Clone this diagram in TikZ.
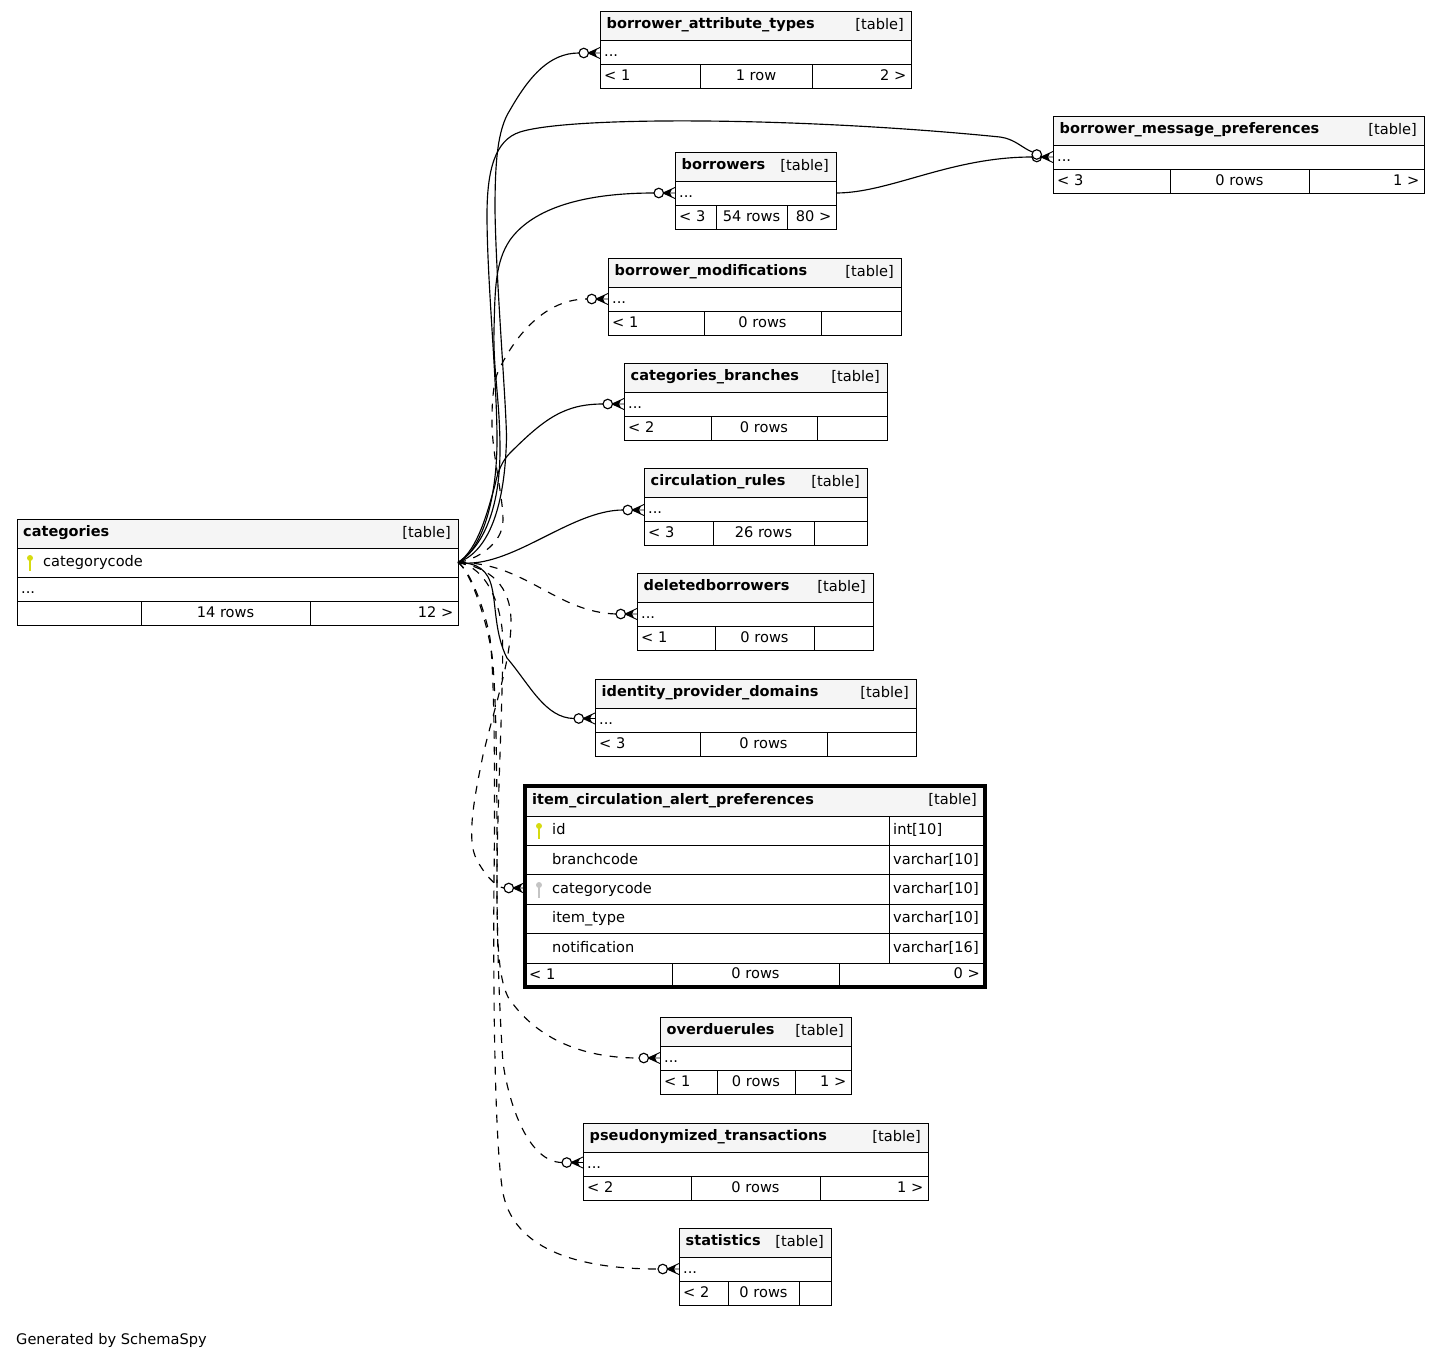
\documentclass[tikz,border=0pt]{standalone}
\usepackage{fontspec}
\setmainfont{DejaVu Sans}
\usetikzlibrary{positioning}
\definecolor{headbg}{HTML}{F5F5F5}
\definecolor{keyyellow}{HTML}{D6DB10}
\definecolor{keygray}{HTML}{C4C4C4}
\tikzset{
  cell/.style={draw,line width=1pt,inner sep=0pt,outer sep=0pt,anchor=north west},
  txt/.style={inner sep=0pt,font=\fontsize{14.6pt}{17pt}\selectfont,text height=11pt,text depth=3pt},
  ttltxt/.style={txt,font=\fontsize{14.5pt}{17pt}\selectfont\bfseries},
  dotend/.style={circle,draw,fill=white,line width=1.15pt,minimum size=9.5pt,inner sep=0pt,outer sep=0pt},
  fk/.style={line width=1.15pt},
  fkd/.style={line width=1.15pt,dash pattern=on 8pt off 8pt},
  pics/crowfoot/.style={code={
    \draw[line width=.9pt] (-12,0) -- (0,-5.5) (-12,0) -- (0,5.5) (-12,0) -- (0,0);
    \fill (-12,0) -- (-3,-4) -- (-5,0) -- (-3,4) -- cycle;
  }},
  pics/keyicon/.style={code={
    \fill[#1] (-1.2,-3) rectangle (1.2,9);
    \fill[#1] (0,-4) circle (3);
  }}
}
\begin{document}
\begin{tikzpicture}
[x=1pt,y=-1pt]
  \useasboundingbox (0,0) rectangle (1440,1360);

  % the small tables: name/left/right/top/title/first and second divider/footer texts/port shift
  \foreach \tbl/\xa/\xb/\ya/\ttl/\da/\db/\fa/\fb/\fc/\dy in {
    attrtypes/600/911/11/borrower\_attribute\_types/700/812/{< 1}/{1 row}/{2 >}/-1,
    msgprefs/1053/1424/116/borrower\_message\_preferences/1170/1309/{< 3}/{0 rows}/{1 >}/0,
    borrowers/675/836/152/borrowers/716/787/{< 3}/{54 rows}/{80 >}/0,
    modifications/608/901/258/borrower\_modifications/704/821/{< 1}/{0 rows}/{}/0,
    branches/624/887/363/categories\_branches/711/817/{< 2}/{0 rows}/{}/0,
    circrules/644/867/468/circulation\_rules/713/814/{< 3}/{26 rows}/{}/-1,
    deleted/637/873/573.5/deletedborrowers/715/814/{< 1}/{0 rows}/{}/.5,
    idpdomains/595/916/679/identity\_provider\_domains/700/827/{< 3}/{0 rows}/{}/1.5,
    overdue/660/851/1017/overduerules/717/795/{< 1}/{0 rows}/{1 >}/0,
    pseudo/583/928/1123/pseudonymized\_transactions/691/820/{< 2}/{0 rows}/{1 >}/1.5,
    statistics/679/831/1228/statistics/728/799/{< 2}/{0 rows}/{}/0%
  }{
    \node[cell,fill=headbg,minimum width=(\xb-\xa)*1pt,minimum height=29pt] (\tbl-head) at (\xa,\ya) {};
    \node[cell,minimum width=(\xb-\xa)*1pt,minimum height=24pt] (\tbl-row) at (\tbl-head.south west) {};
    \node[cell,minimum width=(\da-\xa)*1pt,minimum height=24pt] (\tbl-fa) at (\tbl-row.south west) {};
    \node[cell,minimum width=(\db-\da)*1pt,minimum height=24pt] (\tbl-fb) at (\tbl-fa.north east) {};
    \node[cell,minimum width=(\xb-\db)*1pt,minimum height=24pt] (\tbl-fc) at (\tbl-fb.north east) {};
    \node[ttltxt,anchor=west,xshift=6.5pt,yshift=1.5pt] (\tbl-title) at (\tbl-head.west) {\ttl};
    \node[txt,anchor=east,xshift=-7pt,yshift=.5pt] (\tbl-kind) at (\tbl-head.east) {[table]};
    \node[txt,anchor=west,xshift=4pt] (\tbl-more) at (\tbl-row.west) {...};
    \node[txt,anchor=west,xshift=4pt] (\tbl-ta) at (\tbl-fa.west) {\fa};
    \node[txt] (\tbl-tb) at (\tbl-fb.center) {\fb};
    \node[txt,anchor=east,xshift=-4.5pt] (\tbl-tc) at (\tbl-fc.east) {\fc};
    \coordinate (\tbl-port) at ([yshift=\dy pt]\tbl-row.west);
    \pic at (\tbl-port) {crowfoot};
    \node[dotend,left=11.5pt of \tbl-port] (\tbl-dot) {};
  }

  % categories
  \node[cell,fill=headbg,minimum width=441pt,minimum height=29pt] (cat-head) at (17,519) {};
  \node[cell,minimum width=441pt,minimum height=29pt] (cat-key) at (cat-head.south west) {};
  \node[cell,minimum width=441pt,minimum height=24pt] (cat-row) at (cat-key.south west) {};
  \node[cell,minimum width=124pt,minimum height=24pt] (cat-fa) at (cat-row.south west) {};
  \node[cell,minimum width=169pt,minimum height=24pt] (cat-fb) at (cat-fa.north east) {};
  \node[cell,minimum width=148pt,minimum height=24pt] (cat-fc) at (cat-fb.north east) {};
  \node[ttltxt,anchor=west,xshift=6pt,yshift=1.5pt] (cat-title) at (cat-head.west) {categories};
  \node[txt,anchor=east,xshift=-7pt,yshift=.5pt] (cat-kind) at (cat-head.east) {[table]};
  \pic at (30,562) {keyicon=keyyellow};
  \node[txt,anchor=west,xshift=26pt] (cat-code) at (cat-key.west) {categorycode};
  \node[txt,anchor=west,xshift=4pt] (cat-more) at (cat-row.west) {...};
  \node[txt] (cat-tb) at (cat-fb.center) {14 rows};
  \node[txt,anchor=east,xshift=-4.5pt] (cat-tc) at (cat-fc.east) {12 >};

  % item_circulation_alert_preferences, the one with all its columns
  \node[cell,fill=headbg,minimum width=460pt,minimum height=30pt] (item-head) at (525,786) {};
  \node[ttltxt,anchor=west,xshift=7pt,yshift=.5pt] (item-title) at (item-head.west) {item\_circulation\_alert\_preferences};
  \node[txt,anchor=east,xshift=-8pt,yshift=.5pt] (item-kind) at (item-head.east) {[table]};
  \node[cell,minimum width=364pt,minimum height=29.4pt] (item-id) at (item-head.south west) {};
  \node[cell,minimum width=364pt,minimum height=29.4pt] (item-branch) at (item-id.south west) {};
  \node[cell,minimum width=364pt,minimum height=29.4pt] (item-cat) at (item-branch.south west) {};
  \node[cell,minimum width=364pt,minimum height=29.4pt] (item-type) at (item-cat.south west) {};
  \node[cell,minimum width=364pt,minimum height=29.4pt] (item-note) at (item-type.south west) {};
  \foreach \rw/\cname/\ctype in {id/id/int[10],branch/branchcode/varchar[10],cat/categorycode/varchar[10],type/item\_type/varchar[10],note/notification/varchar[16]}{
    \node[cell,minimum width=96pt,minimum height=29.4pt] (item-\rw-t) at (item-\rw.north east) {};
    \node[txt,anchor=west,xshift=27pt] (item-\rw-name) at (item-\rw.west) {\cname};
    \node[txt,anchor=west,xshift=4pt] (item-\rw-type) at (item-\rw-t.west) {\ctype};
  }
  \pic at (539,830) {keyicon=keyyellow};
  \pic at (539,889) {keyicon=keygray};
  \node[cell,minimum width=147pt,minimum height=24pt] (item-fa) at (item-note.south west) {};
  \node[cell,minimum width=167pt,minimum height=24pt] (item-fb) at (item-fa.north east) {};
  \node[cell,minimum width=146pt,minimum height=24pt] (item-fc) at (item-fb.north east) {};
  \node[txt,anchor=west,xshift=4pt] (item-ta) at (item-fa.west) {< 1};
  \node[txt,yshift=.5pt] (item-tb) at (item-fb.center) {0 rows};
  \node[txt,anchor=east,xshift=-5pt,yshift=.5pt] (item-tc) at (item-fc.east) {0 >};
  \node[draw,line width=3.4pt,inner sep=0pt,outer sep=0pt,anchor=north west,minimum width=460pt,minimum height=201pt] (item-frame) at (525,786) {};
  \coordinate (item-port) at ([yshift=1.5pt]item-cat.west);
  \pic at (item-port) {crowfoot};
  \node[dotend,left=11.5pt of item-port] (item-dot) {};

  % second end on the message preferences table
  \node[dotend,above=-7pt of msgprefs-dot] (msgprefs-dotb) {};

  % relations, solid first
  \draw[fk] (cat-key.east) .. controls (485,553) and (505,515) .. (506.5,437) .. controls (506,400) and (496,280) .. (495,210) .. controls (495,165) and (497,130) .. (510,110) .. controls (530,75) and (550,53) .. (attrtypes-dot.west);
  \draw[fk] (cat-key.east) .. controls (482,550) and (497,500) .. (497,440) .. controls (497,380) and (487,280) .. (487,215) .. controls (487,170) and (495,140) .. (520,132) .. controls (570,116) and (800,117) .. (1000,137) .. controls (1015,139) and (1022,148) .. (msgprefs-dotb.150);
  \draw[fk] (cat-key.east) .. controls (482,548) and (500,510) .. (500,450) .. controls (500,400) and (493,370) .. (494,330) .. controls (495,290) and (495,262) .. (510,240) .. controls (530,212) and (575,193) .. (borrowers-dot.west);
  \draw[fk] (borrowers-row.east) .. controls (890,193) and (950,157) .. (msgprefs-dot.west);
  \draw[fk] (cat-key.east) .. controls (478,550) and (488,510) .. (495,485) .. controls (498,470) and (503,460) .. (510,453) .. controls (545,418) and (565,404) .. (branches-dot.west);
  \draw[fk] (cat-key.east) .. controls (510,570) and (570,510) .. (circrules-dot.west);
  \draw[fk] (cat-key.east) .. controls (478,563) and (488,570) .. (492,588) .. controls (496,605) and (495,635) .. (507,658) .. controls (530,685) and (545,718) .. (idpdomains-dot.west);

  % relations, dashed
  \draw[fkd] (cat-key.east) .. controls (475,560) and (503,545) .. (503,520) .. controls (503,495) and (491,450) .. (492,417) .. controls (492,400) and (494,380) .. (498,372) .. controls (510,345) and (540,299) .. (modifications-dot.west);
  \draw[fkd] (cat-key.east) .. controls (525,562) and (555,612) .. (deleted-dot.west);
  \draw[fkd] (cat-key.east) .. controls (490,568) and (511,585) .. (511,622) .. controls (511,660) and (495,705) .. (483,755) .. controls (476,790) and (465,840) .. (477,860) .. controls (483,872) and (495,887) .. (item-dot.west);
  \draw[fkd] (cat-key.east) .. controls (480,566) and (497,590) .. (502,628) .. controls (505,660) and (497,800) .. (497,880) .. controls (497,930) and (497,975) .. (508,997) .. controls (530,1030) and (570,1058) .. (overdue-dot.west);
  \draw[fkd] (cat-key.east) .. controls (470,570) and (487,620) .. (492,655) .. controls (497,700) and (497,800) .. (497,880) .. controls (497,950) and (500,1020) .. (503,1063) .. controls (510,1110) and (530,1162) .. (pseudo-dot.west);
  \draw[fkd] (cat-key.east) .. controls (470,570) and (485,610) .. (490,638) .. controls (495,680) and (495,800) .. (494,880) .. controls (493,1000) and (495,1150) .. (503,1193) .. controls (512,1240) and (560,1269) .. (statistics-dot.west);

  \node[txt,anchor=west] (generated) at (16,1340) {Generated by SchemaSpy};
\end{tikzpicture}
\end{document}
